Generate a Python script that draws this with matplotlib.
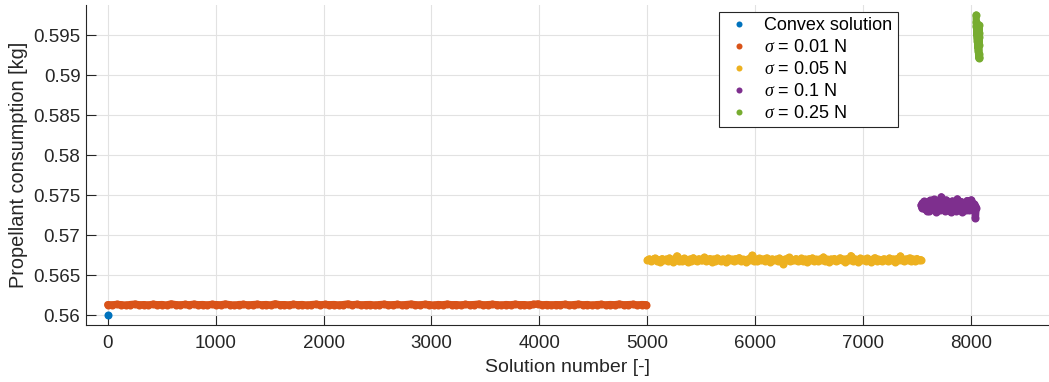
import numpy as np
import matplotlib
matplotlib.use("Agg")
import matplotlib.pyplot as plt

# ---------------- data ----------------
series_labels = ["Convex solution", r"$\sigma$ = 0.01 N", r"$\sigma$ = 0.05 N",
                 r"$\sigma$ = 0.1 N", r"$\sigma$ = 0.25 N"]

convex_x = [1]
convex_y = [0.5600]

# solution-number ranges of each batch (first, last)
range_001 = (1, 4990)
range_005 = (5001, 7530)
range_01 = (7535, 8045)
range_025 = (8045, 8075)

sigma_001 = [
    0.56130, 0.56127, 0.56133, 0.56129, 0.56124, 0.56131, 0.56136, 0.56128, 0.56130, 0.56126,
    0.56134, 0.56129, 0.56131, 0.56125, 0.56139, 0.56130, 0.56127, 0.56132, 0.56128, 0.56135,
    0.56129, 0.56131, 0.56126, 0.56133, 0.56130, 0.56128, 0.56137, 0.56129, 0.56124, 0.56131,
    0.56132, 0.56127, 0.56130, 0.56134, 0.56128, 0.56131, 0.56126, 0.56140, 0.56129, 0.56130,
    0.56127, 0.56133, 0.56129, 0.56131, 0.56125, 0.56130, 0.56135, 0.56128, 0.56132, 0.56129,
    0.56131, 0.56126, 0.56130, 0.56138, 0.56128, 0.56133, 0.56127, 0.56130, 0.56131, 0.56125,
    0.56130, 0.56134, 0.56128, 0.56129, 0.56132, 0.56126, 0.56131, 0.56136, 0.56129, 0.56127,
    0.56133, 0.56130, 0.56124, 0.56131, 0.56128, 0.56135, 0.56129, 0.56130, 0.56126, 0.56132,
    0.56128, 0.56131, 0.56137, 0.56127, 0.56130, 0.56133, 0.56129, 0.56125, 0.56131, 0.56128,
    0.56134, 0.56129, 0.56130, 0.56126, 0.56132, 0.56139, 0.56128, 0.56131, 0.56127, 0.56130,
    0.56129, 0.56133, 0.56126, 0.56130, 0.56135, 0.56128, 0.56131, 0.56124, 0.56130, 0.56132,
    0.56127, 0.56131, 0.56129, 0.56136, 0.56128, 0.56130, 0.56133, 0.56126, 0.56131, 0.56129,
]

sigma_005 = [
    0.56688, 0.56701, 0.56672, 0.56695, 0.56710, 0.56679, 0.56690, 0.56663, 0.56705, 0.56684,
    0.56697, 0.56676, 0.56712, 0.56689, 0.56668, 0.56702, 0.56739, 0.56681, 0.56694, 0.56673,
    0.56708, 0.56686, 0.56660, 0.56699, 0.56677, 0.56715, 0.56691, 0.56670, 0.56703, 0.56685,
    0.56693, 0.56721, 0.56674, 0.56688, 0.56706, 0.56666, 0.56698, 0.56680, 0.56711, 0.56687,
    0.56675, 0.56700, 0.56692, 0.56658, 0.56709, 0.56683, 0.56696, 0.56671, 0.56704, 0.56689,
    0.56717, 0.56678, 0.56694, 0.56686, 0.56662, 0.56702, 0.56690, 0.56746, 0.56680, 0.56697,
    0.56669, 0.56707, 0.56685, 0.56699, 0.56676, 0.56713, 0.56691, 0.56664, 0.56701, 0.56688,
    0.56696, 0.56674, 0.56710, 0.56683, 0.56641, 0.56698, 0.56687, 0.56719, 0.56677, 0.56693,
    0.56684, 0.56705, 0.56670, 0.56692, 0.56708, 0.56679, 0.56697, 0.56666, 0.56703, 0.56690,
    0.56712, 0.56681, 0.56695, 0.56673, 0.56700, 0.56687, 0.56724, 0.56676, 0.56694, 0.56661,
    0.56699, 0.56685, 0.56706, 0.56672, 0.56691, 0.56714, 0.56682, 0.56697, 0.56668, 0.56704,
    0.56689, 0.56742, 0.56678, 0.56701, 0.56693, 0.56667, 0.56709, 0.56684, 0.56696, 0.56675,
    0.56707, 0.56690, 0.56663, 0.56698, 0.56716, 0.56680, 0.56694, 0.56686, 0.56671, 0.56703,
    0.56692, 0.56677, 0.56711, 0.56688, 0.56699, 0.56665, 0.56705, 0.56683, 0.56738, 0.56690,
    0.56674, 0.56700, 0.56687, 0.56713, 0.56681, 0.56696, 0.56669, 0.56706, 0.56685, 0.56693,
]

sigma_01 = [
    0.57372, 0.57341, 0.57398, 0.57355, 0.57420, 0.57330, 0.57386, 0.57362, 0.57305, 0.57410,
    0.57348, 0.57379, 0.57295, 0.57432, 0.57366, 0.57320, 0.57391, 0.57352, 0.57445, 0.57336,
    0.57401, 0.57359, 0.57288, 0.57383, 0.57344, 0.57415, 0.57370, 0.57312, 0.57395, 0.57478,
    0.57327, 0.57364, 0.57405, 0.57351, 0.57299, 0.57389, 0.57438, 0.57342, 0.57376, 0.57318,
    0.57408, 0.57357, 0.57392, 0.57284, 0.57369, 0.57426, 0.57335, 0.57381, 0.57349, 0.57413,
    0.57302, 0.57374, 0.57452, 0.57346, 0.57387, 0.57325, 0.57399, 0.57361, 0.57418, 0.57291,
    0.57378, 0.57339, 0.57403, 0.57356, 0.57310, 0.57384, 0.57431, 0.57347, 0.57367, 0.57314,
    0.57396, 0.57353, 0.57440, 0.57331, 0.57380, 0.57308, 0.57393, 0.57360, 0.57209, 0.57343,
]

sigma_025 = [
    0.5975, 0.5966, 0.5961, 0.5958, 0.5964, 0.5955, 0.5952, 0.5949, 0.5960, 0.5946,
    0.5943, 0.5957, 0.5940, 0.5951, 0.5937, 0.5933, 0.5945, 0.5930, 0.5926, 0.5923,
    0.5921, 0.5953, 0.5962, 0.5938, 0.5947,
]

xticks = [0, 1000, 2000, 3000, 4000, 5000, 6000, 7000, 8000]
yticks = [0.56, 0.565, 0.57, 0.575, 0.58, 0.585, 0.59, 0.595]
ytick_labels = ["0.56", "0.565", "0.57", "0.575", "0.58", "0.585", "0.59", "0.595"]

colors = ["#0072BD", "#D95319", "#EDB120", "#7E2F8E", "#77AC30"]

# ---------------- plot ----------------
plt.rcParams['font.family'] = ['Liberation Sans', 'DejaVu Sans']
plt.rcParams['mathtext.fontset'] = 'custom'
plt.rcParams['mathtext.it'] = 'Liberation Serif:italic'

W, H = 1049, 382
fig = plt.figure(figsize=(W / 100, H / 100), dpi=100)
ax = fig.add_axes([86 / W, (H - 325) / H, (W - 86) / W, 320 / H])

ms = 5.8
band_lw = 5.2

def xs(rng, vals):
    return np.linspace(rng[0], rng[1], len(vals))

series = [(range_001, sigma_001, 1), (range_005, sigma_005, 2),
          (range_01, sigma_01, 3), (range_025, sigma_025, 4)]
for rng, vals, ci in series:
    x = xs(rng, vals)
    # dense clouds of solutions: markers plus a filler stroke through them
    ax.plot(x, vals, '-', lw=band_lw, color=colors[ci], solid_capstyle='round',
            solid_joinstyle='round', zorder=3)
    ax.plot(x, vals, 'o', ms=ms, color=colors[ci], mec='none',
            label=series_labels[ci], zorder=3)
ax.plot(convex_x, convex_y, 'o', ms=ms, color=colors[0], mec='none',
        label=series_labels[0], zorder=4)

ax.set_xlim(-200, 8720)
ax.set_ylim(0.55875, 0.59875)
ax.set_xticks(xticks)
ax.set_yticks(yticks)
ax.set_yticklabels(ytick_labels)

axc = '#262626'
ax.tick_params(direction='in', length=7.2, width=0.8, colors=axc, labelsize=13.5)
ax.tick_params(axis='y', pad=4)
ax.tick_params(axis='x', pad=7)
ax.grid(True, color='#e2e2e2', linewidth=0.8, zorder=0)
ax.set_axisbelow(True)
for s in ['top', 'right']:
    ax.spines[s].set_visible(False)
for s in ['left', 'bottom']:
    ax.spines[s].set_color(axc)
    ax.spines[s].set_linewidth(0.8)

ax.set_xlabel("Solution number [-]", fontsize=14, color=axc, labelpad=5)
ax.set_ylabel("Propellant consumption [kg]", fontsize=14.3, color=axc, labelpad=4)

handles, labels = ax.get_legend_handles_labels()
order = [4, 0, 1, 2, 3]
leg = ax.legend([handles[i] for i in order], [labels[i] for i in order],
                loc='upper right', bbox_to_anchor=(0.843, 0.978), borderaxespad=0,
                fontsize=13, frameon=True, fancybox=False, edgecolor=axc,
                framealpha=1, markerscale=0.75, handlelength=1.6, handletextpad=0.6,
                labelspacing=0.27, borderpad=0.3)
leg.get_frame().set_linewidth(0.8)

fig.savefig("out.png", dpi=100)
